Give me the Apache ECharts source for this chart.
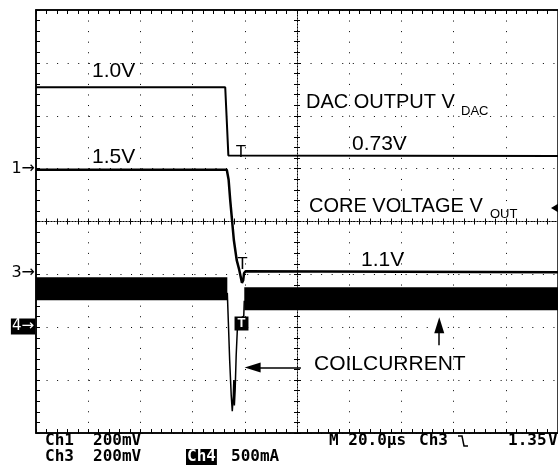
<!DOCTYPE html>
<html>
<head>
<meta charset="utf-8">
<script src="https://cdn.jsdelivr.net/npm/echarts@6.0.0/dist/echarts.min.js"></script>
<style>
  html, body { margin: 0; padding: 0; background: #fff; }
  #main { width: 558px; height: 465px; }
</style>
</head>
<body>
<div id="main"></div>
<script>
// time axis in µs (M 20.0µs/div), vertical axis in screen divisions
const timeRange = [-100, 100];
const divRange = [-4, 4];

// DAC output (V_DAC): 1.0V -> 0.73V
const dacTrace = [[-100, 2.54], [-27.5, 2.54], [-26.9, 1.9], [-26.3, 1.25], [100, 1.24]];
// core voltage (V_OUT): 1.5V -> 1.1V
const coreTrace = [
  [-100, 0.98], [-26.9, 0.98], [-26.2, 0.79], [-25.6, 0.41], [-24.9, 0.03],
  [-24.2, -0.35], [-23.1, -0.73], [-22.1, -0.92], [-21.1, -1.16], [-20.6, -1.11],
  [-20.3, -0.98], [-19.7, -0.94], [100, -0.96]
];
// coil current: noisy band before and after the step, ringing in between
const coilBandBefore = [[-100, -1.27], [-26.7, -1.27]];
const coilBandAfter = [[-20.2, -1.46], [100, -1.46]];
const coilSpike = [
  [-26.7, -1.35], [-26.3, -1.9], [-25.8, -2.62], [-25.2, -3.29], [-24.8, -3.59],
  [-24.4, -3.29], [-24.2, -3.0], [-24.0, -3.48], [-23.7, -3.19], [-23.3, -2.53],
  [-22.7, -1.87], [-20.4, -1.79], [-20.2, -1.5]
];
// annotation arrows [from, to]
const arrowUp = [[54.5, -2.34], [54.5, -1.96]];
const arrowLeft = [[1.5, -2.76], [-17.0, -2.76]];

const dots = [1, 9.56];

function edgeAxis(extra) {
  return Object.assign({
    type: "value",
    axisLine: { show: true, onZero: false, lineStyle: { color: "#000", width: 1.5 } },
    axisTick: { show: true, inside: true, length: 4, lineStyle: { color: "#000" } },
    minorTick: { show: true, splitNumber: 5, length: 4, lineStyle: { color: "#000" } },
    axisLabel: { show: false },
    splitLine: { show: false }
  }, extra);
}
function centerAxis(extra, inside, split) {
  return Object.assign({
    type: "value",
    axisLine: { show: true, onZero: true, onZeroAxisIndex: 0, lineStyle: { color: "#000", width: 1, type: [1, 2] } },
    axisTick: { show: true, inside: inside, length: 3, lineStyle: { color: "#000" } },
    minorTick: { show: true, splitNumber: 5, length: 3, lineStyle: { color: "#000" } },
    axisLabel: { show: false },
    splitLine: { show: split, lineStyle: { color: "#000", width: 1, type: dots } }
  }, extra);
}

const xBase = { min: timeRange[0], max: timeRange[1], interval: 20 };
const yBase = { min: divRange[0], max: divRange[1], interval: 1 };

const txt = (text, x, y, font, more) => ({
  type: "text", x: x, y: y, z: 100,
  style: Object.assign({ text: text, font: font, fill: "#000", verticalAlign: "middle" }, more || {})
});
const big = '21px "Liberation Sans"';
const mid = '20px "Liberation Sans"';
const sub = '13px "Liberation Sans"';
const mono = 'bold 16px "DejaVu Sans Mono"';

let myChart = echarts.init(document.getElementById("main"));
myChart.setOption({
  animation: false,
  backgroundColor: "#fff",
  grid: { left: 36, top: 10, width: 528, height: 423, show: true, borderColor: "#000", borderWidth: 1.5 },
  xAxis: [
    centerAxis(Object.assign({ position: "bottom" }, xBase), true, true),
    centerAxis(Object.assign({ position: "bottom" }, xBase), false, false),
    edgeAxis(Object.assign({ position: "bottom" }, xBase)),
    edgeAxis(Object.assign({ position: "top" }, xBase))
  ],
  yAxis: [
    centerAxis(Object.assign({ position: "left" }, yBase), true, true),
    centerAxis(Object.assign({ position: "left" }, yBase), false, false),
    edgeAxis(Object.assign({ position: "left" }, yBase))
  ],
  series: [
    {
      name: "coil band before", type: "line", data: coilBandBefore, showSymbol: false,
      lineStyle: { color: "#000", width: 23, cap: "butt" }, z: 5
    },
    {
      name: "coil band after", type: "line", data: coilBandAfter, showSymbol: false,
      lineStyle: { color: "#000", width: 23, cap: "butt" }, z: 5
    },
    {
      name: "coil spike", type: "line", data: coilSpike, showSymbol: false,
      lineStyle: { color: "#000", width: 1.5 }, z: 5,
      markLine: {
        silent: true, symbol: ["none", "triangle"], symbolSize: [10, 16],
        label: { show: false },
        lineStyle: { color: "#000", width: 1.5, type: "solid" },
        data: [
          [{ coord: arrowUp[0] }, { coord: arrowUp[1] }],
          [{ coord: arrowLeft[0] }, { coord: arrowLeft[1] }]
        ]
      }
    },
    {
      name: "V_DAC", type: "line", data: dacTrace, showSymbol: false,
      lineStyle: { color: "#000", width: 2 }, z: 6
    },
    {
      name: "V_OUT", type: "line", data: coreTrace, showSymbol: false,
      lineStyle: { color: "#000", width: 2.5 }, z: 6
    }
  ],
  graphic: [
    // trace labels
    txt("1.0V", 92, 71, big),
    txt("1.5V", 92, 157, big),
    txt("0.73V", 352, 144, big),
    txt("1.1V", 361, 260, big),
    txt("COILCURRENT", 314, 364, big),
    txt("DAC OUTPUT V", 306, 102.5, mid),
    txt("DAC", 461, 111.5, sub),
    txt("CORE VOLTAGE V", 309, 206, mid),
    txt("OUT", 490, 214, sub),
    // trigger marks
    txt("T", 241, 152, '17px "Liberation Sans"', { align: "center" }),
    txt("T", 242.5, 264, '17px "Liberation Sans"', { align: "center" }),
    txt("T", 241.5, 323.5, 'bold 13px "Liberation Sans"',
      { align: "center", fill: "#fff", backgroundColor: "#000", padding: [1, 3, 0, 3] }),
    // trigger level pointer at the right edge
    {
      type: "polygon", z: 100,
      shape: { points: [[551, 208], [561, 202], [561, 214]] },
      style: { fill: "#000" }
    },
    // channel ground markers
    txt("1\u2192", 35, 169, '16px "DejaVu Sans"', { align: "right" }),
    txt("3\u2192", 35, 273, '16px "DejaVu Sans"', { align: "right" }),
    txt("4\u2192", 35, 326.5, '15px "DejaVu Sans"',
      { align: "right", fill: "#fff", backgroundColor: "#000", padding: [1, 1, 0, 1] }),
    // readout
    txt("Ch1", 45, 441, mono),
    txt("200mV", 93, 441, mono),
    txt("Ch3", 45, 457, mono),
    txt("200mV", 93, 457, mono),
    txt("Ch4", 186, 457, mono, { fill: "#fff", backgroundColor: "#000", padding: [0, 1, 0, 1] }),
    txt("500mA", 231, 457, mono),
    txt("M 20.0\u00B5s", 329, 441, mono),
    txt("Ch3", 419, 441, mono),
    {
      type: "polyline", z: 100,
      shape: { points: [[458, 436], [462, 436], [464, 446], [468, 446]] },
      style: { stroke: "#000", lineWidth: 1.5, fill: null }
    },
    txt("1.35", 508, 441, mono),
    txt("V", 548, 441, mono)
  ]
});
</script>
</body>
</html>
